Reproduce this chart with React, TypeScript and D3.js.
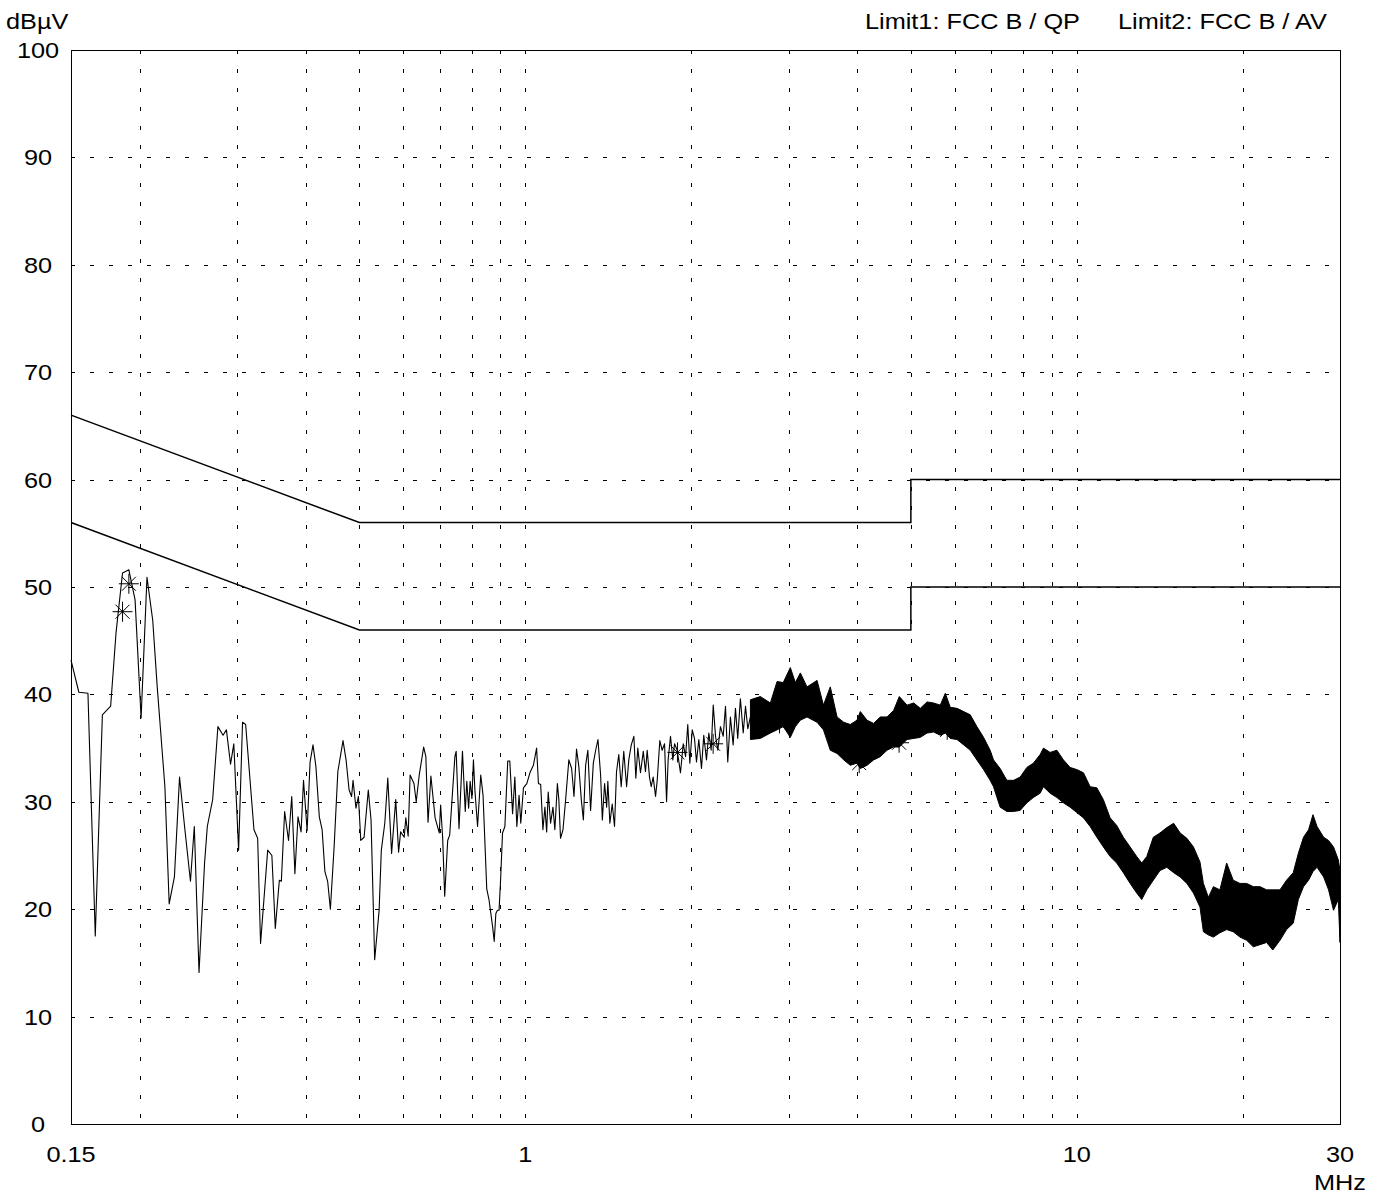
import React, { useEffect, useRef } from 'react';
import * as d3 from 'd3';

// scan trace 0.15 .. 2.56 MHz (read point by point)
const traceFreq = [
  0.150, 0.155, 0.161, 0.166, 0.171, 0.177, 0.181, 0.186, 0.191, 0.196,
  0.201, 0.206, 0.211, 0.215, 0.222, 0.226, 0.231, 0.236, 0.241, 0.247,
  0.251, 0.256, 0.262, 0.265, 0.271, 0.277, 0.283, 0.287, 0.292, 0.296,
  0.302, 0.307, 0.311, 0.322, 0.327, 0.331, 0.341, 0.347, 0.352, 0.358,
  0.361, 0.366, 0.372, 0.377, 0.382, 0.387, 0.392, 0.396, 0.402, 0.407,
  0.412, 0.417, 0.423, 0.428, 0.433, 0.438, 0.443, 0.450, 0.457, 0.467,
  0.473, 0.479, 0.484, 0.487, 0.493, 0.498, 0.503, 0.510, 0.519, 0.525,
  0.533, 0.543, 0.548, 0.556, 0.563, 0.572, 0.582, 0.589, 0.594, 0.603,
  0.607, 0.613, 0.618, 0.628, 0.634, 0.642, 0.654, 0.660, 0.666, 0.674,
  0.686, 0.698, 0.702, 0.708, 0.714, 0.723, 0.729, 0.745, 0.749, 0.758,
  0.769, 0.778, 0.783, 0.789, 0.794, 0.800, 0.805, 0.810, 0.819, 0.830,
  0.838, 0.851, 0.859, 0.872, 0.878, 0.884, 0.890, 0.896, 0.902, 0.909,
  0.918, 0.929, 0.937, 0.948, 0.957, 0.965, 0.974, 0.981, 0.992, 1.006,
  1.019, 1.034, 1.048, 1.056, 1.066, 1.076, 1.085, 1.093, 1.100, 1.111,
  1.122, 1.131, 1.143, 1.150, 1.158, 1.170, 1.183, 1.199, 1.213, 1.225,
  1.238, 1.250, 1.263, 1.274, 1.286, 1.298, 1.313, 1.328, 1.341, 1.354,
  1.369, 1.379, 1.392, 1.404, 1.411, 1.423, 1.437, 1.451, 1.463, 1.477,
  1.492, 1.508, 1.526, 1.540, 1.556, 1.573, 1.586, 1.599, 1.617, 1.636,
  1.651, 1.663, 1.679, 1.691, 1.705, 1.722, 1.734, 1.753, 1.770, 1.788,
  1.803, 1.815, 1.833, 1.851, 1.864, 1.885, 1.911, 1.933, 1.952, 1.970,
  1.987, 2.007, 2.026, 2.043, 2.063, 2.086, 2.106, 2.130, 2.151, 2.172,
  2.191, 2.212, 2.233, 2.258, 2.284, 2.306, 2.328, 2.354, 2.381, 2.404,
  2.427, 2.454, 2.483, 2.507, 2.531, 2.559,
];
const traceLevel = [
  43.2, 40.2, 40.1, 17.5, 38.1, 38.9, 45.7, 51.3, 51.6, 48.8,
  37.8, 50.9, 46.9, 40.7, 31.4, 20.5, 23.0, 32.3, 27.7, 22.6,
  27.7, 14.1, 24.3, 27.7, 30.2, 37.0, 36.2, 36.7, 33.5, 35.4,
  25.5, 37.4, 37.2, 27.4, 26.6, 16.8, 25.5, 25.0, 18.2, 22.7,
  22.6, 29.1, 26.4, 30.5, 23.3, 28.6, 27.2, 32.0, 27.3, 33.7,
  35.3, 33.3, 28.6, 27.4, 23.5, 22.6, 20.0, 25.8, 32.8, 35.7,
  33.9, 31.1, 30.5, 32.0, 29.4, 30.5, 26.4, 26.7, 31.1, 28.3,
  15.3, 19.9, 25.5, 28.0, 32.2, 25.2, 30.2, 25.3, 27.2, 26.7,
  28.5, 26.8, 32.5, 31.7, 30.0, 32.5, 35.1, 34.2, 28.1, 32.4,
  28.5, 27.1, 29.7, 26.6, 21.2, 26.4, 26.9, 34.2, 34.7, 27.5,
  34.7, 29.1, 31.9, 29.4, 31.9, 30.3, 33.9, 31.1, 27.7, 32.5,
  30.6, 21.9, 20.9, 18.4, 17.0, 19.6, 19.9, 19.9, 22.9, 27.1,
  27.7, 33.8, 33.8, 28.9, 32.3, 27.7, 30.6, 28.0, 31.3, 31.7,
  32.7, 33.4, 35.0, 31.7, 31.6, 27.4, 29.5, 27.2, 30.9, 28.0,
  29.5, 27.4, 31.7, 30.2, 26.6, 27.4, 30.2, 33.9, 33.1, 30.5,
  34.9, 33.3, 30.2, 28.3, 33.4, 34.8, 29.2, 33.6, 34.8, 35.8,
  32.5, 28.3, 31.7, 29.5, 31.9, 28.0, 29.8, 27.7, 32.8, 34.4,
  31.4, 34.7, 31.4, 33.9, 35.3, 36.1, 32.2, 35.0, 32.7, 34.7,
  32.8, 34.8, 32.3, 31.4, 32.3, 30.5, 32.0, 35.7, 34.8, 35.4,
  30.0, 33.9, 36.1, 33.9, 35.4, 34.8, 32.7, 35.4, 34.2, 37.2,
  33.6, 36.7, 35.9, 33.7, 35.8, 33.1, 36.2, 33.9, 36.4, 34.8,
  39.0, 36.1, 34.8, 37.0, 36.1, 38.9, 33.7, 37.9, 35.3, 38.7,
  35.9, 39.6, 36.4, 38.9, 36.8, 37.9,
];

// dense part 2.56 .. 30 MHz: upper / lower edge of the noise band
const bandFreq = [
  2.559, 2.667, 2.781, 2.860, 2.935, 3.023, 3.087, 3.152, 3.241, 3.380,
  3.471, 3.572, 3.674, 3.779, 3.883, 3.993, 4.049, 4.164, 4.280, 4.401,
  4.526, 4.652, 4.765, 4.921, 5.061, 5.201, 5.349, 5.498, 5.653, 5.774,
  5.894, 6.063, 6.235, 6.407, 6.587, 6.773, 6.962, 7.061, 7.259, 7.465,
  7.677, 7.891, 8.116, 8.341, 8.578, 8.698, 8.943, 9.198, 9.455, 9.722,
  9.998, 10.28, 10.57, 10.87, 11.17, 11.49, 11.81, 12.14, 12.49, 12.84,
  13.11, 13.39, 13.76, 14.15, 14.56, 14.98, 15.39, 15.83, 16.27, 16.72,
  16.96, 17.32, 17.68, 18.17, 18.69, 19.21, 19.76, 20.32, 20.89, 21.48,
  22.08, 22.66, 23.35, 24.00, 24.68, 25.21, 25.76, 26.31, 26.80, 27.26,
  28.02, 28.60, 29.20, 29.79, 30.0,
];
const bandHigh = [
  39.5, 39.8, 39.2, 41.2, 41.1, 42.5, 41.1, 42.0, 40.7, 41.3,
  39.0, 40.7, 37.9, 37.4, 37.2, 37.6, 38.4, 37.6, 37.3, 37.9,
  37.9, 38.5, 39.8, 39.0, 39.2, 38.7, 39.3, 39.2, 39.0, 40.1,
  38.8, 38.7, 38.4, 38.1, 37.0, 36.0, 34.8, 33.9, 33.1, 32.0,
  32.0, 32.3, 33.2, 33.6, 34.4, 35.0, 34.6, 34.8, 33.9, 33.2,
  33.0, 32.7, 31.4, 31.3, 30.2, 28.5, 27.8, 26.7, 25.8, 24.9,
  24.3, 24.9, 26.7, 27.1, 27.6, 28.0, 27.1, 26.6, 25.8, 24.4,
  22.4, 21.1, 22.1, 21.8, 24.3, 22.7, 22.4, 22.4, 22.1, 22.1,
  21.8, 21.8, 21.8, 22.7, 23.4, 25.2, 26.7, 27.4, 28.8, 27.7,
  26.7, 26.4, 25.8, 24.6, 23.6,
];
const bandLow = [
  35.8, 35.9, 36.4, 36.7, 37.0, 36.0, 37.0, 37.6, 37.9, 37.4,
  36.7, 34.8, 34.5, 33.9, 33.4, 33.6, 33.1, 33.4, 33.9, 34.2,
  34.8, 35.1, 35.1, 35.8, 35.9, 36.0, 36.4, 36.5, 36.2, 36.4,
  35.9, 35.8, 35.3, 34.8, 33.9, 33.0, 32.0, 31.4, 29.5, 29.1,
  29.1, 29.2, 29.9, 30.4, 30.8, 31.4, 30.8, 30.4, 29.9, 29.5,
  29.0, 28.5, 27.7, 26.7, 25.8, 24.9, 24.3, 23.4, 22.4, 21.5,
  20.9, 21.8, 22.7, 23.6, 23.9, 23.4, 23.0, 22.4, 21.5, 20.2,
  17.9, 17.6, 17.4, 17.8, 18.1, 17.9, 17.4, 17.1, 16.5, 16.7,
  16.9, 16.2, 17.1, 18.1, 18.7, 20.9, 22.1, 22.7, 23.5, 23.9,
  23.0, 21.8, 19.9, 20.9, 16.9,
];

// peak markers
const markerFreq = [0.186, 0.191, 1.887, 2.19, 2.89, 3.02, 4.03, 4.76, 5.82];
const markerLevel = [47.7, 50.3, 34.6, 35.4, 37.3, 38.1, 33.6, 35.5, 36.7];

// limits
const limitFreq = [0.15, 0.5, 5, 5, 30];
const limitQP = [66, 56, 56, 60, 60];
const limitAV = [56, 46, 46, 50, 50];

const yTicks = [0, 10, 20, 30, 40, 50, 60, 70, 80, 90, 100];
const xGrid = [0.2, 0.3, 0.4, 0.5, 0.6, 0.7, 0.8, 0.9, 1, 2, 3, 4, 5, 6, 7, 8, 9, 10, 20];
const xLabels = ['0.15', '1', '10', '30'];

const W = 1384;
const H = 1194;
const FONT = '"Liberation Sans", Arial, sans-serif';
const SX = 1.15; // the original print is stretched sideways

const App: React.FC = () => {
  const svgRef = useRef<SVGSVGElement>(null);

  useEffect(() => {
    if (!svgRef.current) return;
    const svg = d3.select(svgRef.current);
    svg.selectAll('*').remove();

    const left = 71, right = 1340, top = 50, bottom = 1124;
    const x = d3.scaleLog().domain([0.15, 30]).range([left, right]);
    const y = d3.scaleLinear().domain([0, 100]).range([bottom, top]);

    svg.append('rect').attr('width', W).attr('height', H).attr('fill', '#fff');

    // grid
    const grid = svg.append('g').attr('stroke', '#000').attr('stroke-width', 1).attr('stroke-dasharray', '4,15');
    yTicks.filter(v => v > 0 && v < 100).forEach(v => {
      const yy = Math.round(y(v)) + 0.5;
      grid.append('line').attr('x1', left).attr('x2', right).attr('y1', yy).attr('y2', yy);
    });
    xGrid.forEach(f => {
      const xx = Math.round(x(f)) + 0.5;
      grid.append('line').attr('x1', xx).attr('x2', xx).attr('y1', top).attr('y2', bottom);
    });

    // frame
    svg.append('rect')
      .attr('x', left + 0.5).attr('y', top + 0.5)
      .attr('width', right - left).attr('height', bottom - top)
      .attr('fill', 'none').attr('stroke', '#000').attr('stroke-width', 1);

    const txt = (s: string, tx: number, ty: number, anchor: string) =>
      svg.append('text')
        .attr('transform', `translate(${tx},${ty}) scale(${SX},1)`)
        .attr('text-anchor', anchor)
        .attr('font-family', FONT)
        .attr('font-size', 22)
        .attr('fill', '#000')
        .text(s);

    yTicks.forEach(v => txt(String(v), 38, y(v) + 8, 'middle'));
    xLabels.forEach(s => txt(s, x(+s), 1162, 'middle'));
    txt('MHz', right, 1190, 'middle');
    txt('dBµV', 6, 29, 'start');
    txt('Limit1: FCC B / QP', 865, 29, 'start');
    txt('Limit2: FCC B / AV', 1118, 29, 'start');

    // limits
    const limLine = (vals: number[]) => d3.line<number>()
      .x((_, i) => x(limitFreq[i]))
      .y(v => y(v))(vals);
    [limitQP, limitAV].forEach(vals => {
      svg.append('path').attr('d', limLine(vals)!)
        .attr('fill', 'none').attr('stroke', '#000').attr('stroke-width', 1.5);
    });

    // trace
    const traceLine = d3.line<number>()
      .x((_, i) => x(traceFreq[i]))
      .y(v => y(v));
    svg.append('path').attr('d', traceLine(traceLevel)!)
      .attr('fill', 'none').attr('stroke', '#000').attr('stroke-width', 1.1)
      .attr('stroke-linejoin', 'round');

    const band = d3.area<number>()
      .x((_, i) => x(bandFreq[i]))
      .y0((_, i) => y(bandLow[i]))
      .y1(v => y(v));
    svg.append('path').attr('d', band(bandHigh)!)
      .attr('fill', '#000').attr('stroke', '#000').attr('stroke-width', 1);

    // markers
    const r = 10, d = 7;
    markerFreq.forEach((f, i) => {
      const cx = x(f), cy = y(markerLevel[i]);
      svg.append('path')
        .attr('d', `M${cx - r},${cy}H${cx + r}M${cx},${cy - r}V${cy + r}M${cx - d},${cy - d}L${cx + d},${cy + d}M${cx - d},${cy + d}L${cx + d},${cy - d}`)
        .attr('fill', 'none').attr('stroke', '#000').attr('stroke-width', 1);
    });
  }, []);

  return (
    <svg ref={svgRef} width={W} height={H}
      style={{ position: 'absolute', left: 0, top: 0, display: 'block' }} />
  );
};

export default App;
